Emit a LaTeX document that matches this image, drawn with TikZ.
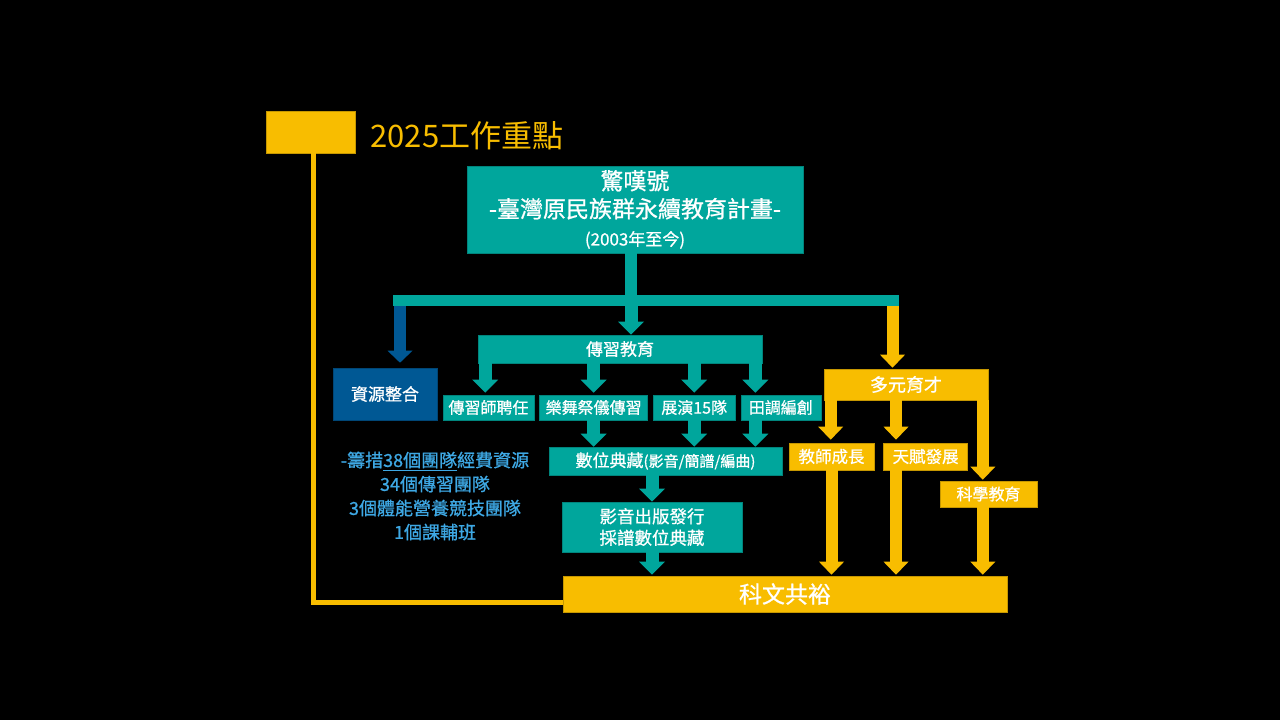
\documentclass[tikz,border=0pt]{standalone}
\usepackage{fontspec}
\setmainfont{Noto Sans CJK TC}
\newfontfamily\boxfont{Noto Sans CJK TC}[FakeBold=0.8]
\usetikzlibrary{arrows.meta,positioning,calc}
\definecolor{tealc}{RGB}{0,166,156}
\definecolor{bluec}{RGB}{0,88,148}
\definecolor{goldc}{RGB}{248,189,0}
\definecolor{notec}{RGB}{62,168,228}
\begin{document}
\begin{tikzpicture}[x=1pt, y=-1pt,
    box/.style={fill=#1, draw=#1!80!black, line width=.6pt, text=white, inner sep=0pt, align=center},
    fsz/.style={font=\boxfont\fontsize{#1}{#1}\selectfont},
    tline/.style={draw=tealc, line width=#1},
    tarrow/.style={draw=tealc, line width=13pt, -{Triangle[width=26pt,length=13pt,line width=0pt]}},
    barrow/.style={draw=bluec, line width=12pt, -{Triangle[width=25pt,length=12pt,line width=0pt]}},
    yarrow/.style={draw=goldc, line width=12pt, -{Triangle[width=25pt,length=13pt,line width=0pt]}}]
      \fill[black] (0,0) rectangle (1280,720);

      \node[box=goldc, minimum width=89, minimum height=42] (tbox) at (310.5,132) {};
      \node[anchor=west, text=goldc, font=\fontsize{31}{31}\selectfont] (title) at (367,136) {2025工作重點};

      \node[box=tealc, minimum width=336, minimum height=87, font=\boxfont\fontsize{23}{28}\selectfont] (main) at (635,209.5)
        {驚嘆號\\-臺灣原民族群永續教育計畫-\\\fontsize{17}{24}\selectfont(2003年至今)};

      \node[box=bluec, minimum width=104, minimum height=52, fsz=17] (res) at (385,394) {資源整合};
      \node[box=tealc, minimum width=284, minimum height=28, fsz=17] (edu) at (620,349) {傳習教育};

      \node[box=tealc, minimum width=91, minimum height=25, fsz=16] (t_1) at (488.5,407.5) {傳習師聘任};
      \node[box=tealc, minimum width=108, minimum height=25, fsz=16, right=5pt of t_1] (t_2) {樂舞祭儀傳習};
      \node[box=tealc, minimum width=82, minimum height=25, fsz=16, right=5pt of t_2] (t_3) {展演15隊};
      \node[box=tealc, minimum width=80, minimum height=25, fsz=16, right=5pt of t_3] (t_4) {田調編創};

      \node[box=tealc, minimum width=233, minimum height=28, fsz=17] (arch) at (665.5,461)
        {數位典藏{\fontsize{15}{15}\selectfont(影音/簡譜/編曲)}};
      \node[box=tealc, minimum width=180, minimum height=50, font=\boxfont\fontsize{17.5}{21.5}\selectfont] (pub) at (652,527)
        {影音出版發行\\採譜數位典藏};
      \node[box=goldc, minimum width=444, minimum height=36, fsz=23] (goal) at (785,594) {科文共裕};

      \node[box=goldc, minimum width=164, minimum height=31, fsz=18] (multi) at (906,384.5) {多元育才};
      \node[box=goldc, minimum width=85, minimum height=27, fsz=16.5] (y_1) at (831.5,456.5) {教師成長};
      \node[box=goldc, minimum width=84, minimum height=27, fsz=16.5, right=9pt of y_1] (y_2) {天賦發展};
      \node[box=goldc, minimum width=97, minimum height=26, fsz=16] (y_3) at (988.5,494) {科學教育};

      \node[text=notec, align=center, font=\boxfont\fontsize{18}{24}\selectfont] (note) at (435,496)
        {-籌措\underline{38個團隊}經費資源\\34個傳習團隊\\3個體能營養競技團隊\\1個課輔班};

      \coordinate (hub) at (631,300.5);
      \coordinate (bar_w) at (393,300.5);
      \coordinate (bar_e) at (899,300.5);
      \coordinate (e_1) at ([xshift=7.5]edu.south west);
      \coordinate (e_4) at ([xshift=-7]edu.south east);
      \coordinate (m_1) at ([xshift=7]multi.south west);
      \coordinate (m_2) at ([xshift=-10]multi.south);
      \coordinate (m_3) at ([xshift=-5.5]multi.south east);

      \draw[goldc, line width=5pt] ([xshift=3]tbox.south) |- ([yshift=-8.5]goal.west);

      \draw[tline=12pt] ([xshift=-4]main.south) -- (hub);
      \draw[barrow, shorten >=5pt] ([xshift=7]bar_w) -- ([xshift=15]res.north);
      \draw[tarrow] (hub) -- (hub |- edu.north);
      \draw[yarrow, shorten >=1pt] ([xshift=-6.5]bar_e) -- ([xshift=-6.5]bar_e |- multi.north);
      \draw[tline=11pt] (bar_w) -- (bar_e);

      \draw[tarrow, shorten >=2pt] (e_1) -- (e_1 |- t_1.north);
      \draw[tarrow, shorten >=2pt] (edu.south -| t_2) -- (t_2.north);
      \draw[tarrow, shorten >=2pt] (edu.south -| t_3) -- (t_3.north);
      \draw[tarrow, shorten >=2pt] (e_4) -- (e_4 |- t_4.north);

      \draw[tarrow] (t_2.south) -- (t_2.south |- arch.north);
      \draw[tarrow] (t_3.south) -- (t_3.south |- arch.north);
      \draw[tarrow] (t_4.south -| e_4) -- (e_4 |- arch.north);
      \draw[tarrow] (arch.south -| pub) -- (pub.north);
      \draw[tarrow, shorten >=1pt] (pub.south) -- (pub.south |- goal.north);

      \draw[yarrow, shorten >=3pt] (m_1) -- (m_1 |- y_1.north);
      \draw[yarrow, shorten >=3pt] (m_2) -- (m_2 |- y_2.north);
      \draw[yarrow, shorten >=1pt] (m_3) -- (m_3 |- y_3.north);
      \draw[yarrow, shorten >=1pt] (y_1.south) -- (y_1.south |- goal.north);
      \draw[yarrow, shorten >=1pt] (y_2.south -| m_2) -- (m_2 |- goal.north);
      \draw[yarrow, shorten >=1pt] (y_3.south -| m_3) -- (m_3 |- goal.north);
\end{tikzpicture}
\end{document}
